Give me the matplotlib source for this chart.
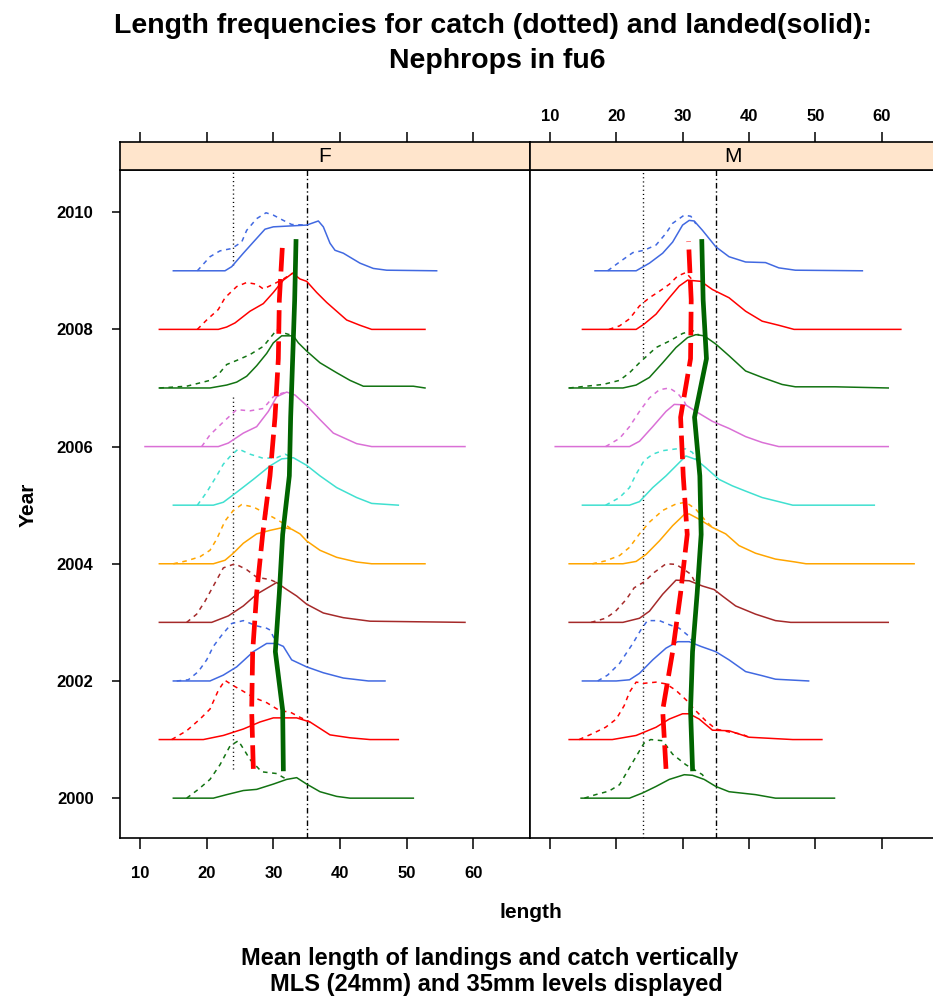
"""Length frequencies for catch and landings, Nephrops in FU6, by sex panel."""
import numpy as np
import matplotlib
matplotlib.use("Agg")
import matplotlib.pyplot as plt

plt.rcParams["font.family"] = ["Liberation Sans", "DejaVu Sans"]

YEARS = list(range(2000, 2010))
COLORS = ["#127312", "#ff0000", "#4169e1", "#a52a2a", "#ffa500",
          "#40e0d0", "#da70d6", "#127312", "#ff0000", "#4169e1"]
PANELS = ["F", "M"]
MLS = 24
LEVEL = 35
X_TICKS = [10, 20, 30, 40, 50, 60]
Y_TICKS = [2000, 2002, 2004, 2006, 2008, 2010]

# (length, scaled frequency) knots per year, 2000..2009
F_LANDED = [
    [(15, 0), (21, 0), (23, .06), (25.5, .13), (27.5, .15), (30, .24), (32, .32), (33.5, .35),
     (35, .24), (37, .11), (39.5, .03), (41.5, 0), (51, 0)],
    [(12.9, 0), (19.5, 0), (22.5, .07), (25.5, .18), (28, .30), (30, .37), (33.5, .37), (35.5, .30),
     (38.5, .08), (41.5, .03), (44.5, 0), (48.75, 0)],
    [(15, 0), (20.5, 0), (22.5, .10), (24.5, .24), (27, .50), (29, .64), (30.5, .64), (31.5, .59),
     (32.75, .36), (35, .24), (37.5, .14), (40.5, .05), (44.25, 0), (46.75, 0)],
    [(12.9, 0), (20.75, 0), (23.25, .11), (25.5, .28), (27.5, .48), (29, .58), (30.5, .68), (31.75, .58),
     (33.5, .45), (35, .31), (37.5, .16), (40.5, .08), (44.5, .02), (58.75, 0)],
    [(12.9, 0), (21, 0), (22.75, .06), (24, .18), (25.5, .35), (27.5, .51), (29.5, .57), (31.5, .62),
     (32.75, .59), (34, .51), (35, .39), (37, .23), (39.5, .11), (42.5, .03), (44.75, 0), (52.75, 0)],
    [(15, 0), (21, 0), (22.5, .05), (24.5, .22), (27, .44), (29.5, .67), (31.25, .79), (33, .81),
     (35, .68), (37, .50), (39.5, .30), (42.5, .13), (44.75, .03), (48.75, 0)],
    [(10.75, 0), (21.75, 0), (23.25, .06), (25.5, .23), (27.5, .34), (29.25, .60), (30.5, .85), (32, .93),
     (33.25, .88), (35, .70), (37, .46), (39, .23), (42.5, .05), (44.75, 0), (58.75, 0)],
    [(12.9, 0), (20.5, 0), (23, .05), (24.5, .10), (26, .20), (27.5, .38), (29, .59), (30, .77),
     (31.25, .89), (33, .89), (33.75, .77), (35, .63), (37, .43), (39.5, .26), (41.5, .13), (43.5, .03),
     (51, .03), (52.75, 0)],
    [(12.9, 0), (21.75, 0), (23, .04), (24.25, .11), (26.5, .31), (28.5, .44), (30, .63), (31.5, .84),
     (32.9, .96), (34, .86), (35, .82), (36.5, .63), (38, .46), (40, .26), (41, .16), (43, .07),
     (44.75, 0), (52.75, 0)],
    [(15, 0), (22.75, 0), (23.75, .07), (25.5, .30), (27, .49), (28.75, .71), (30, .75), (35, .78),
     (36.75, .85), (37.5, .75), (38.5, .47), (39.25, .35), (40.5, .30), (43, .13), (45, .04), (47, .01),
     (54.5, 0)],
]
F_CATCH = [
    [(17, 0), (18.75, .15), (20.5, .32), (22, .57), (23.5, .89), (24.75, .98), (25.75, .80), (26.5, .66),
     (28.25, .45), (30.5, .42), (32, .32)],
    [(14.75, 0), (17, .15), (19, .35), (20.5, .52), (21.75, .84), (22.75, 1.01), (24, .92), (25.25, .84),
     (27, .72), (29, .63), (31, .49), (32.5, .47), (34, .38), (35.5, .30)],
    [(15.5, 0), (17.25, .02), (18.75, .16), (20, .36), (21, .59), (22.25, .78), (23.75, .98), (25.5, 1.03),
     (27.5, .94), (29, .90), (29.5, .87), (30.5, .64)],
    [(17, 0), (18.5, .14), (19.75, .36), (21, .62), (22.5, .93), (24.25, 1.0), (26, .90), (27.5, .77),
     (29.5, .73), (30.5, .68)],
    [(15, 0), (17, .05), (19, .12), (20.5, .23), (21.5, .42), (22.75, .73), (24, .91), (25.25, 1.01),
     (27, .97), (28.5, .88), (30, .79), (31.5, .69), (32.75, .59)],
    [(18.6, 0), (20, .22), (21.5, .50), (22.5, .70), (23.5, .83), (24.75, .96), (26.5, .87), (28.5, .80),
     (30.5, .81), (31.75, .87), (33, .81)],
    [(19.25, 0), (20.5, .20), (22.5, .42), (24.5, .63), (26.5, .61), (28.5, .65), (30, .85), (31.25, .91),
     (32, .93)],
    [(12.9, 0), (17, .03), (20.5, .13), (21.75, .23), (23, .40), (24.5, .47), (26.5, .57), (28.5, .71),
     (30, .92), (30.5, 1.0), (31.25, .95), (33, .89)],
    [(18.6, 0), (20, .16), (21.75, .34), (22.75, .54), (24.5, .73), (26, .80), (27.5, .77), (28.5, .69),
     (30, .77), (31.5, .86), (32.9, .96)],
    [(18.6, 0), (20.5, .24), (22, .34), (23.75, .38), (25.25, .49), (26, .69), (27.5, .89), (28.9, .99),
     (30, .95), (31.5, .86), (32.75, .79), (35, .78)],
]
M_LANDED = [
    [(14.7, 0), (22, 0), (24, .09), (26, .20), (28, .32), (30.25, .40), (31.5, .39), (33.25, .32),
     (35, .20), (37, .11), (41, .06), (44, 0), (52.9, 0)],
    [(12.9, 0), (19.4, 0), (23, .07), (26, .21), (28, .35), (30, .44), (31, .44), (32.5, .35),
     (34.5, .16), (37, .15), (40, .04), (46.6, 0), (51, 0)],
    [(14.9, 0), (20, 0), (22, .02), (23.5, .13), (25.5, .36), (27.5, .56), (29.25, .67), (31, .67),
     (32.75, .59), (35, .50), (37, .36), (39.5, .16), (42, .09), (44, .03), (49, 0)],
    [(12.9, 0), (21, 0), (23.5, .07), (25, .19), (27, .48), (29, .72), (31, .71), (33, .62),
     (34.75, .56), (36, .45), (38, .28), (41, .14), (44, .03), (46.3, 0), (61, 0)],
    [(12.9, 0), (21, 0), (23, .04), (24.5, .16), (26.5, .39), (28.5, .65), (30.25, .84), (31, .85),
     (32.5, .76), (34.5, .62), (36.5, .51), (38.5, .31), (41, .18), (44, .08), (47, .03), (48.6, 0),
     (64.9, 0)],
    [(14.9, 0), (22, 0), (23.5, .06), (25.5, .30), (27.5, .50), (29, .67), (30.5, .84), (32, .78),
     (33.5, .64), (35.5, .44), (37.5, .33), (39.5, .24), (42, .13), (44.5, .06), (46.6, 0), (58.9, 0)],
    [(10.8, 0), (22, 0), (23.5, .09), (25.5, .34), (27.5, .60), (28.75, .72), (30.5, .71), (32, .60),
     (34.5, .43), (37, .31), (39.5, .17), (42, .07), (44.5, 0), (61, 0)],
    [(12.9, 0), (21, 0), (23, .05), (25, .18), (27, .43), (29, .69), (30.75, .86), (32, .91),
     (33.25, .89), (35, .75), (37, .55), (39.5, .29), (42, .18), (45, .06), (47, .02), (53, .02), (61, 0)],
    [(14.9, 0), (23, 0), (24.2, .09), (26, .26), (28, .54), (29.5, .74), (30.75, .84), (32.75, .82),
     (34.5, .68), (37, .54), (39.5, .31), (42, .14), (44.5, .07), (46.8, 0), (62.9, 0)],
    [(16.8, 0), (23, 0), (25, .13), (27, .30), (28.5, .49), (30, .78), (31, .86), (31.75, .85),
     (33, .69), (35, .41), (37, .24), (39.5, .15), (42.5, .14), (44.5, .05), (47, .01), (57.1, 0)],
]
M_CATCH = [
    [(15.2, 0), (16.9, .06), (18.9, .12), (20.5, .23), (22, .52), (23.2, .75), (24.2, .94), (25.2, 1.0),
     (27, .98), (28.5, .75), (30.5, .57), (32, .47), (33, .40), (33.5, .30)],
    [(14.4, 0), (16.4, .10), (18.4, .21), (20, .35), (21.2, .58), (22, .81), (23, .98), (24.2, .96),
     (26, .98), (27.5, .95), (29, .84), (30.5, .68), (32, .49), (33.5, .32), (35, .18), (37, .13),
     (39, .09), (40, .04)],
    [(17.2, 0), (18.7, .10), (20.5, .30), (22.5, .64), (23.7, .87), (24.7, 1.03), (26.5, 1.03), (28, .96),
     (29.5, .90), (31, .76), (31.5, .67)],
    [(16.2, 0), (18.4, .07), (19.9, .19), (21.5, .39), (22.7, .59), (24.2, .69), (25.7, .85), (27.5, 1.0),
     (29, .99), (30.25, .90), (31.25, .82), (32, .66)],
    [(16.4, 0), (18.4, .05), (20.5, .14), (22, .28), (23.5, .51), (25, .71), (27, .91), (29, 1.02),
     (30.5, 1.05), (32, .93), (33.5, .73), (34.5, .62)],
    [(18.4, 0), (20.5, .13), (22, .30), (23, .53), (24.2, .76), (25.5, .87), (27, .93), (29, .96),
     (30.5, .96), (31.5, .90), (32, .78)],
    [(18.4, 0), (20.5, .14), (22, .34), (23.5, .60), (25, .83), (26.5, .97), (28, 1.0), (29.25, .91),
     (30.25, .77), (30.5, .71)],
    [(12.9, 0), (18, .06), (20.5, .13), (22, .26), (23.5, .43), (26, .69), (28, .80), (30, .93),
     (31.5, .98), (32.5, .90)],
    [(18.9, 0), (20.5, .06), (22, .18), (23.5, .40), (25, .54), (26.5, .65), (28, .77), (29.25, .91),
     (30.5, .97), (31.5, .84)],
    [(18.7, 0), (20.5, .15), (22.5, .31), (24.2, .35), (26, .44), (27.5, .64), (28.5, .81), (30.25, .95),
     (31.25, .93), (32, .80)],
]

# mean lengths, plotted at year + 0.5
F_MEAN_LANDED = [31.5, 31.4, 30.3, 30.9, 31.4, 32.4, 32.6, 32.9, 33.2, 33.4]
F_MEAN_CATCH = [27.0, 26.75, 26.9, 27.5, 28.4, 29.5, 30.25, 30.75, 30.9, 31.4]
M_MEAN_LANDED = [31.5, 31.2, 31.5, 32.2, 32.8, 32.6, 31.8, 33.6, 33.1, 32.9]
M_MEAN_CATCH = [27.5, 27.0, 28.5, 29.7, 30.7, 30.1, 29.7, 31.2, 31.3, 30.9]

# y-extent of the MLS line in each panel
F_MLS_SPANS = [(2000.5, 2006.9), (2009.1, 2010.72)]
M_MLS_SPANS = [(1999.32, 2005.26), (2007.53, 2010.72)]

XLIM = (7.0, 68.5)
YLIM = (1999.32, 2010.72)
W, H = 933, 1001
BOLD = dict(fontweight="bold")


def draw_panel(ax, landed, catch, mean_l, mean_c, mls_spans):
    ax.axvline(LEVEL, color="black", lw=1.0, dashes=(4, 2, 1, 2), zorder=1)
    for y0, y1 in mls_spans:
        ax.plot([MLS, MLS], [y0, y1], color="black", lw=1.0, dashes=(0.8, 2.2), zorder=1)
    for i, year in enumerate(YEARS):
        land = np.array(landed[i])
        ctch = np.array(catch[i])
        ax.plot(ctch[:, 0], year + ctch[:, 1], color=COLORS[i], lw=1.1, dashes=(3, 3), zorder=2)
        ax.plot(land[:, 0], year + land[:, 1], color=COLORS[i], lw=1.1, zorder=3)
    ymid = np.array(YEARS) + 0.5
    ax.plot(mean_c, ymid, color="#ff0000", lw=3.4, dashes=(5, 1.6), zorder=4)
    ax.plot(mean_l, ymid, color="#006400", lw=3.4, zorder=5)
    ax.set_xlim(*XLIM)
    ax.set_ylim(*YLIM)
    for s in ax.spines.values():
        s.set_linewidth(1.2)


fig = plt.figure(figsize=(W / 100, H / 100), dpi=100)

panel_px = [(120, 410), (530, 408)]
data = [(F_LANDED, F_CATCH, F_MEAN_LANDED, F_MEAN_CATCH, F_MLS_SPANS),
        (M_LANDED, M_CATCH, M_MEAN_LANDED, M_MEAN_CATCH, M_MLS_SPANS)]

for k, ((left, width), args) in enumerate(zip(panel_px, data)):
    ax = fig.add_axes([left / W, (H - 838) / H, width / W, (838 - 170) / H])
    draw_panel(ax, *args)
    ax.set_xticks(X_TICKS)
    ax.tick_params(axis="x", direction="out", length=8, width=1.1, pad=12, labelsize=12)
    if k == 0:
        ax.set_xticklabels([str(t) for t in X_TICKS], **BOLD)
        ax.set_yticks(Y_TICKS)
        ax.set_yticklabels([str(t) for t in Y_TICKS], **BOLD)
        ax.tick_params(axis="y", direction="out", length=6, width=1.1, pad=13, labelsize=12)
    else:
        ax.set_xticklabels([])
        ax.set_yticks([])

    strip = fig.add_axes([left / W, (H - 170) / H, width / W, 28 / H])
    strip.set_facecolor("#ffe5cc")
    strip.set_xlim(*XLIM)
    strip.set_yticks([])
    strip.set_xticks(X_TICKS)
    strip.tick_params(axis="x", bottom=False, labelbottom=False, top=True,
                      direction="out", length=7, width=1.1, pad=6, labelsize=12)
    strip.tick_params(axis="x", labeltop=(k == 1))
    if k == 1:
        strip.set_xticklabels([str(t) for t in X_TICKS], **BOLD)
    for s in strip.spines.values():
        s.set_linewidth(1.2)

fig.text(325 / W, 1 - 156 / H, PANELS[0], ha="center", va="center", fontsize=15)
fig.text(733 / W, 1 - 156 / H, PANELS[1], ha="center", va="center", fontsize=15)

fig.text(493 / W, 1 - 26 / H, "Length frequencies for catch (dotted) and landed(solid):",
         ha="center", va="center", fontsize=20.5, **BOLD)
fig.text(497 / W, 1 - 61 / H, "Nephrops in fu6", ha="center", va="center", fontsize=20.5, **BOLD)
fig.text(531 / W, 1 - 912 / H, "length", ha="center", va="center", fontsize=15, **BOLD)
fig.text(28 / W, 1 - 505 / H, "Year", ha="center", va="center", rotation=90, fontsize=15, **BOLD)
fig.text(490 / W, 1 - 958 / H, "Mean length of landings and catch vertically",
         ha="center", va="center", fontsize=17, **BOLD)
fig.text(496 / W, 1 - 985 / H, "MLS (24mm) and 35mm levels displayed",
         ha="center", va="center", fontsize=17, **BOLD)

fig.savefig("out.png", dpi=100)
